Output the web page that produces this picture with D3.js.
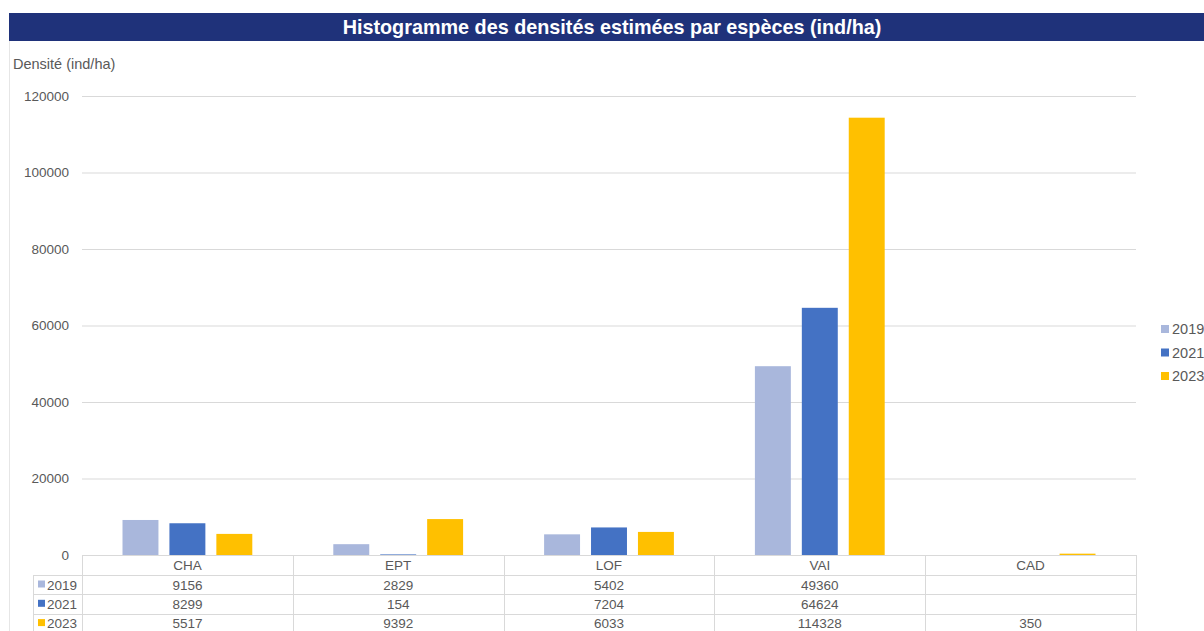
<!DOCTYPE html>
<html>
<head>
<meta charset="utf-8">
<script src="https://cdn.jsdelivr.net/npm/d3@7"></script>
<style>
  body { margin: 0; background: #fff; }
  svg { display: block; font-family: "Liberation Sans", Arial, sans-serif; }
</style>
</head>
<body>
<svg id="chart" width="1204" height="631"></svg>
<script>
// data
var especes = ["CHA", "EPT", "LOF", "VAI", "CAD"];
var annees = ["2019", "2021", "2023"];
var val2019 = [9156, 2829, 5402, 49360, null];
var val2021 = [8299, 154, 7204, 64624, null];
var val2023 = [5517, 9392, 6033, 114328, 350];
var yTicks = [0, 20000, 40000, 60000, 80000, 100000, 120000];
var couleurs = ["#a9b7dc", "#4472c4", "#ffc000"];

var series = [val2019, val2021, val2023];

var svg = d3.select("#chart");
var W = 1204, H = 631;
var pLeft = 82, pRight = 1136, pTop = 96, pBottom = 555;
var textCol = "#595959", gridCol = "#d9d9d9";

// title bar
svg.append("rect").attr("x", 9).attr("y", 13).attr("width", W - 9).attr("height", 28)
    .attr("fill", "#1f327a");
svg.append("text").attr("x", 612).attr("y", 34).attr("text-anchor", "middle")
    .attr("fill", "#fff").attr("font-size", 19.8).attr("font-weight", "bold")
    .text("Histogramme des densités estimées par espèces (ind/ha)");
// faint frame line on left
svg.append("line").attr("x1", 9.5).attr("x2", 9.5).attr("y1", 41).attr("y2", H)
    .attr("stroke", "#e6e6e6");

svg.append("text").attr("x", 13).attr("y", 69).attr("fill", textCol)
    .attr("font-size", 14.5).text("Densité (ind/ha)");

var x0 = d3.scaleBand().domain(especes).range([pLeft, pRight]).paddingInner(0).paddingOuter(0);
var x1 = d3.scaleBand().domain(annees).range([40.5, x0.bandwidth() - 40.5]).paddingInner(0.234);
var y = d3.scaleLinear().domain([0, 120000]).range([pBottom, pTop]);

// grid
var yAxis = d3.axisLeft(y).tickValues(yTicks).tickSize(-(pRight - pLeft)).tickFormat(d3.format("d"));
var gy = svg.append("g").attr("transform", "translate(" + pLeft + ",0)").call(yAxis);
gy.select(".domain").remove();
gy.selectAll(".tick line").attr("stroke", gridCol);
gy.selectAll(".tick text").attr("fill", textCol).attr("font-size", 13.5)
    .attr("x", -13).attr("dy", "0.32em")
    .style("font-family", "\"Liberation Sans\", Arial, sans-serif");

// bars
especes.forEach(function (esp, i) {
    var g = svg.append("g").attr("transform", "translate(" + x0(esp) + ",0)");
    g.selectAll("rect")
        .data(annees.map(function (a, k) { return { annee: a, v: series[k][i], k: k }; })
            .filter(function (d) { return d.v != null; }))
        .enter().append("rect")
        .attr("x", function (d) { return x1(d.annee); })
        .attr("width", x1.bandwidth())
        .attr("y", function (d) { return y(d.v); })
        .attr("height", function (d) { return y(0) - y(d.v); })
        .attr("fill", function (d) { return couleurs[d.k]; });
});

// data table
var rowY = [pBottom, pBottom + 20, pBottom + 39.3, pBottom + 58.6];
var tbl = svg.append("g");
tbl.append("line").attr("x1", pLeft).attr("x2", pRight).attr("y1", pBottom + 0.5).attr("y2", pBottom + 0.5)
    .attr("stroke", gridCol);
for (var r = 1; r < 4; r++) {
    tbl.append("line").attr("x1", 33).attr("x2", pRight)
        .attr("y1", Math.round(rowY[r]) + 0.5).attr("y2", Math.round(rowY[r]) + 0.5)
        .attr("stroke", gridCol);
}
var vx = [pLeft].concat(especes.map(function (e) { return x0(e) + x0.bandwidth(); }));
vx.forEach(function (xx) {
    tbl.append("line").attr("x1", Math.round(xx) + 0.5).attr("x2", Math.round(xx) + 0.5)
        .attr("y1", pBottom).attr("y2", H).attr("stroke", gridCol);
});
tbl.append("line").attr("x1", 33.5).attr("x2", 33.5).attr("y1", rowY[1]).attr("y2", H)
    .attr("stroke", gridCol);

especes.forEach(function (esp) {
    tbl.append("text").attr("x", x0(esp) + x0.bandwidth() / 2).attr("y", pBottom + 15)
        .attr("text-anchor", "middle").attr("fill", textCol).attr("font-size", 13.5).text(esp);
});
annees.forEach(function (a, k) {
    var ty = rowY[k + 1] + 14.5;
    tbl.append("rect").attr("x", 38).attr("y", ty - 9).attr("width", 7).attr("height", 7)
        .attr("fill", couleurs[k]);
    tbl.append("text").attr("x", 47).attr("y", ty).attr("fill", textCol).attr("font-size", 13.5).text(a);
    especes.forEach(function (esp, i) {
        var v = series[k][i];
        if (v == null) return;
        tbl.append("text").attr("x", x0(esp) + x0.bandwidth() / 2).attr("y", ty)
            .attr("text-anchor", "middle").attr("fill", textCol).attr("font-size", 13.5).text(v);
    });
});

// legend on right
var leg = svg.append("g");
annees.forEach(function (a, k) {
    var ly = 329 + k * 23.5;
    leg.append("rect").attr("x", 1161).attr("y", ly - 4).attr("width", 8).attr("height", 8)
        .attr("fill", couleurs[k]);
    leg.append("text").attr("x", 1172).attr("y", ly + 5).attr("fill", textCol)
        .attr("font-size", 14.5).text(a);
});
</script>
</body>
</html>
